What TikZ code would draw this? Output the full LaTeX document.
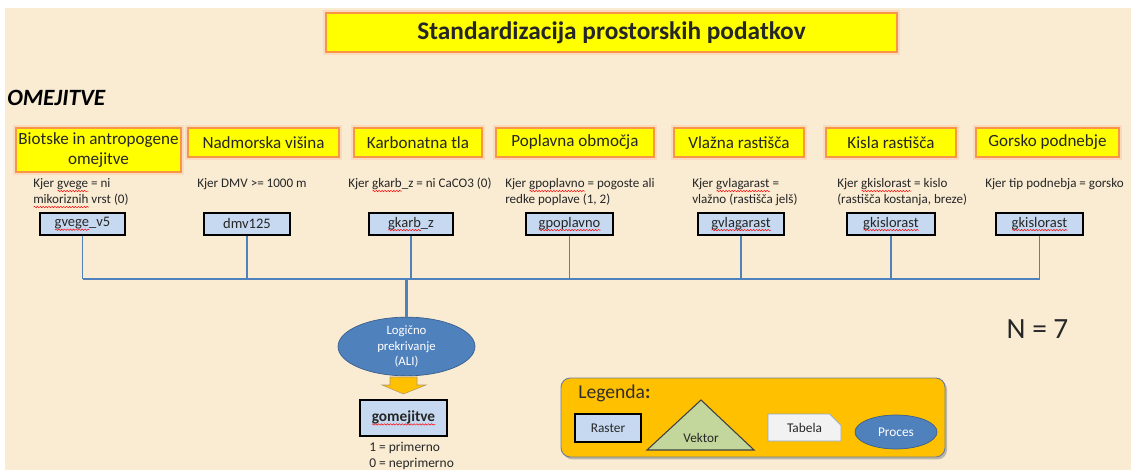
\documentclass[tikz,border=0pt]{standalone}
\usepackage{fontspec}
\setmainfont{Carlito}
\usetikzlibrary{shapes.geometric,shapes.misc,shadows,decorations.pathmorphing}
\definecolor{bg}{HTML}{FAECD3}
\definecolor{hdrfill}{HTML}{FFFF00}
\definecolor{hdredge}{HTML}{F79646}
\definecolor{rastfill}{HTML}{C6D9F1}
\definecolor{lineblue}{HTML}{4F81BD}
\definecolor{elledge}{HTML}{385D8A}
\definecolor{legfill}{HTML}{FFC000}
\definecolor{legedge}{HTML}{6F7F96}
\definecolor{vekfill}{HTML}{C3D69B}
\definecolor{tabfill}{HTML}{F2F2F2}
\definecolor{tabedge}{HTML}{95A7C4}
\definecolor{txt}{HTML}{262626}
\definecolor{arrowedge}{HTML}{B0986A}
\newlength\sqlen
\newcommand\sq[1]{\settowidth\sqlen{#1}\leavevmode\rlap{\raisebox{-2.3pt}{\tikz[baseline=0pt]\draw[red,line width=0.35pt,decorate,decoration={snake,amplitude=0.55pt,segment length=2.2pt}] (0pt,0pt) -- (\sqlen,0pt);}}#1}
\tikzset{
  span/.style n args={4}{minimum width={(#3-#1)*0.75pt},minimum height={(#4-#2)*0.75pt},at={({(#1+#3)/2},{(#2+#4)/2})}},
  hdr/.style={rectangle,draw=hdredge,line width=2.2pt,fill=hdrfill,inner sep=0pt,
    preaction={draw=hdredge!35,line width=4.2pt},
    font=\fontsize{12.8}{15}\selectfont,text=txt,align=center},
  rast/.style={rectangle,draw=black,line width=0.9pt,fill=rastfill,inner sep=0pt,
    drop shadow={shadow xshift=0.9pt,shadow yshift=-0.9pt,opacity=0.45},
    font=\fontsize{10.9}{13}\selectfont,text=txt},
  desc/.style={anchor=base west,inner sep=0pt,font=\fontsize{9.8}{12}\selectfont,text=txt},
  branch/.style={draw=lineblue,line width=1pt},
  trunk/.style={draw=lineblue,line width=1.9pt},
  proc/.style={ellipse,fill=lineblue,draw=elledge,line width=0.5pt,inner sep=0pt,text=white},
}
\begin{document}
\begin{tikzpicture}[x=0.75pt,y=-0.75pt]
\useasboundingbox (0,0) rectangle (1131,470);
\fill[white] (0,0) rectangle (1131,470);
\fill[bg] (5,8) rectangle (1131,470);

% title
\node[hdr,span={326}{13}{897}{52},font=\fontsize{19}{22}\selectfont\bfseries] (title) {Standardizacija prostorskih podatkov};
\node[anchor=west,inner sep=0pt,font=\fontsize{17.5}{20}\selectfont\bfseries\itshape,text=black] (omej) at (7,98) {OMEJITVE};

% header boxes
\node[hdr,span={16}{128}{181}{172}] (h1) {Biotske in antropogene\\omejitve};
\node[hdr,span={188}{128}{339}{157}] (h2) {Nadmorska višina};
\node[hdr,span={354}{128}{482}{157}] (h3) {Karbonatna tla};
\node[hdr,span={496}{128}{654}{157}] (h4) {Poplavna območja};
\node[hdr,span={674}{128}{804}{157}] (h5) {Vlažna rastišča};
\node[hdr,span={826}{128}{956}{157}] (h6) {Kisla rastišča};
\node[hdr,span={976}{128}{1119}{157}] (h7) {Gorsko podnebje};

% descriptions
\node[desc] (d1a) at (33,188) {Kjer \sq{gvege} = ni};
\node[desc] (d1b) at (33,204) {\sq{mikoriznih} vrst (0)};
\node[desc] (d2a) at (197,188) {Kjer DMV >= 1000 m};
\node[desc] (d3a) at (348,188) {Kjer \sq{gkarb}\_z = ni CaCO3 (0)};
\node[desc] (d4a) at (505,188) {Kjer \sq{gpoplavno} = pogoste ali};
\node[desc] (d4b) at (505,204) {redke poplave (1, 2)};
\node[desc] (d5a) at (692,188) {Kjer \sq{gvlagarast} =};
\node[desc] (d5b) at (692,204) {vlažno (rastišča jelš)};
\node[desc] (d6a) at (837,188) {Kjer \sq{gkislorast} = kislo};
\node[desc] (d6b) at (837,204) {(rastišča kostanja, breze)};
\node[desc] (d7a) at (985,188) {Kjer tip podnebja = gorsko};

% raster boxes
\node[rast,span={40}{213}{125}{235}] (r1) {\sq{gvege}\_v5};
\node[rast,span={204}{213}{290}{235}] (r2) {dmv125};
\node[rast,span={369}{213}{453}{235}] (r3) {\sq{gkarb}\_z};
\node[rast,span={526}{213}{613}{235}] (r4) {\sq{gpoplavno}};
\node[rast,span={698}{213}{784}{235}] (r5) {\sq{gvlagarast}};
\node[rast,span={847}{213}{935}{235}] (r6) {\sq{gkislorast}};
\node[rast,span={996}{213}{1083}{235}] (r7) {\sq{gkislorast}};

% overlay process
\node[proc,minimum width=137*0.75pt,minimum height=49*0.75pt,align=center,
  font=\fontsize{9.6}{11.6}\selectfont] (ali) at (406.5,346.5) {Logično\\prekrivanje\\(ALI)};

% connectors
\coordinate (hl) at (0,279);
\foreach \i in {1,...,7} {\draw[branch] (r\i.south) -- (r\i.south |- hl);}
\draw[branch] (r1.south |- hl) -- (r7.south |- hl);
\draw[trunk] (ali.north |- hl) -- (ali.north);

% block arrow
\fill[legfill,draw=arrowedge,line width=0.4pt] (390,377) -- (417,377) -- (417,385) -- (426,385) -- (403.5,394) -- (382,385) -- (390,385) -- cycle;

% result
\node[rast,span={360}{400}{447}{436},font=\fontsize{11.5}{13}\selectfont\bfseries] (res) {\sq{gomejitve}};
\node[desc,font=\fontsize{10.1}{12}\selectfont] (v1) at (369,451) {1 = primerno};
\node[desc,font=\fontsize{10.1}{12}\selectfont] (v0) at (369,467) {0 = neprimerno};

% N
\node[inner sep=0pt,font=\fontsize{22}{26}\selectfont,text=txt] (n) at (1037.5,329.5) {N = 7};

% legend
\node[rectangle,span={561}{378}{945}{457},inner sep=0pt,rounded corners=7pt,fill=legfill,draw=legedge,line width=0.7pt,
  drop shadow={shadow xshift=1.5pt,shadow yshift=-1.8pt,opacity=0.5}] (leg) {};
\node[anchor=base west,inner sep=0pt,font=\fontsize{14.7}{17}\selectfont,text=black!85!olive] (legt) at (578,398) {Legenda\textbf{:}};
\node[rectangle,draw=black,line width=0.9pt,fill=rastfill,inner sep=0pt,span={575}{414}{641}{442},font=\fontsize{10}{12}\selectfont,text=txt] (lr) {Raster};
\coordinate (ta) at (701,400);
\coordinate (tl) at (647,450);
\coordinate (tr) at (754,450);
\filldraw[fill=vekfill,draw=black!75,line width=0.8pt] (ta) -- (tr) -- (tl) -- cycle;
\node[inner sep=0pt,font=\fontsize{9.9}{12}\selectfont,text=txt] (lv) at (701,438) {Vektor};
\node[chamfered rectangle,chamfered rectangle corners=north east,chamfered rectangle xsep=5pt,chamfered rectangle ysep=5pt,
  fill=tabfill,draw=tabedge,line width=0.6pt,minimum width=73*0.75pt,minimum height=27*0.75pt,inner sep=0pt,
  font=\fontsize{10}{12}\selectfont,text=txt] (lt) at (804.5,427.5) {Tabela};
\node[proc,minimum width=82*0.75pt,minimum height=34*0.75pt,font=\fontsize{10}{12}\selectfont] (lp) at (896,432) {Proces};
\end{tikzpicture}
\end{document}
